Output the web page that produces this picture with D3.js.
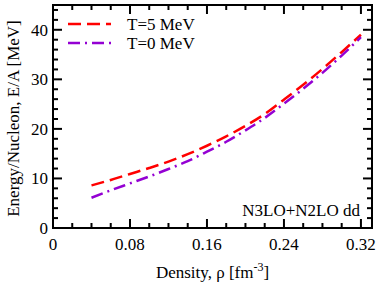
<!DOCTYPE html>
<html>
<head>
<meta charset="utf-8">
<script src="https://cdn.jsdelivr.net/npm/d3@7"></script>
<style>
  body { margin: 0; background: #fff; }
</style>
</head>
<body>
<div id="chart"></div>
<script>
// density values (fm^-3)
var density = [0.04, 0.06, 0.08, 0.10, 0.12, 0.14, 0.16, 0.18, 0.20, 0.22, 0.24, 0.26, 0.28, 0.30, 0.32];
// E/A at T=5 MeV
var energyT5 = [8.6, 9.7, 10.9, 12.1, 13.4, 14.9, 16.6, 18.5, 20.6, 23.0, 25.9, 28.9, 32.1, 35.5, 39.0];
// E/A at T=0 MeV
var energyT0 = [6.1, 7.6, 9.0, 10.4, 11.9, 13.5, 15.4, 17.4, 19.7, 22.2, 25.1, 28.1, 31.3, 34.8, 38.5];

var xTicks = [0, 0.08, 0.16, 0.24, 0.32];
var yTicks = [0, 10, 20, 30, 40];
var seriesNames = ["T=5 MeV", "T=0 MeV"];

var svgWidth = 382;
var svgHeight = 285;
var serif = "Liberation Serif";

var margin = {top: 5, right: 10, bottom: 57, left: 53};
var width = svgWidth - margin.left - margin.right;
var height = svgHeight - margin.top - margin.bottom;

var svg = d3.select("#chart")
  .append("svg")
  .attr("width", svgWidth)
  .attr("height", svgHeight)
  .style("font-family", serif);

var g = svg.append("g")
  .attr("transform", `translate(${margin.left},${margin.top})`);

var x = d3.scaleLinear().domain([0, 0.3315]).range([0, width]);
var y = d3.scaleLinear().domain([0, 45]).range([height, 0]);

// minor ticks
var xMinor = d3.range(0, 0.331, 0.02).filter(v => Math.abs(v / 0.08 - Math.round(v / 0.08)) > 1e-6);
var yMinor = d3.range(0, 45, 2).filter(v => v % 10 != 0);

function tickLines(vals, len, axis) {
  vals.forEach(function(v) {
    if (axis == "x") {
      g.append("line").attr("x1", x(v)).attr("x2", x(v)).attr("y1", height).attr("y2", height - len);
      g.append("line").attr("x1", x(v)).attr("x2", x(v)).attr("y1", 0).attr("y2", len);
    } else {
      g.append("line").attr("x1", 0).attr("x2", len).attr("y1", y(v)).attr("y2", y(v));
      g.append("line").attr("x1", width).attr("x2", width - len).attr("y1", y(v)).attr("y2", y(v));
    }
  });
}
tickLines(xTicks, 9, "x");
tickLines(xMinor, 5, "x");
tickLines(yTicks, 9, "y");
tickLines(yMinor, 5, "y");
g.selectAll("line").attr("stroke", "#000").attr("stroke-width", 2);

// tick labels
g.selectAll(".xlab")
  .data(xTicks)
  .enter()
  .append("text")
  .attr("x", d => x(d))
  .attr("y", height + 22)
  .attr("text-anchor", "middle")
  .attr("font-size", 17)
  .style("font-family", serif)
  .text(d => d == 0 ? "0" : d3.format(".2f")(d));

g.selectAll(".ylab")
  .data(yTicks)
  .enter()
  .append("text")
  .attr("x", -5)
  .attr("y", d => y(d))
  .attr("dy", "0.35em")
  .attr("text-anchor", "end")
  .attr("font-size", 17)
  .style("font-family", serif)
  .text(d => d);

// frame
g.append("rect")
  .attr("width", width)
  .attr("height", height)
  .attr("fill", "none")
  .attr("stroke", "#000")
  .attr("stroke-width", 2);

// curves
var line = d3.line()
  .x(d => x(d[0]))
  .y(d => y(d[1]))
  .curve(d3.curveMonotoneX);

var dataT5 = density.map((d, i) => [d, energyT5[i]]);
var dataT0 = density.map((d, i) => [d, energyT0[i]]);

g.append("path")
  .datum(dataT5)
  .attr("d", line)
  .attr("fill", "none")
  .attr("stroke", "#ff0000")
  .attr("stroke-width", 2.5)
  .attr("stroke-dasharray", "13,6");

g.append("path")
  .datum(dataT0)
  .attr("d", line)
  .attr("fill", "none")
  .attr("stroke", "#9400d3")
  .attr("stroke-width", 2.5)
  .attr("stroke-dasharray", "12,5,2,5");

// legend
var legend = [
  {name: seriesNames[0], color: "#ff0000", dash: "13,6", y: 19},
  {name: seriesNames[1], color: "#9400d3", dash: "12,5,2,5", y: 38}
];
legend.forEach(function(l) {
  g.append("line")
    .attr("x1", 15).attr("x2", 58)
    .attr("y1", l.y).attr("y2", l.y)
    .attr("stroke", l.color)
    .attr("stroke-width", 2.5)
    .attr("stroke-dasharray", l.dash);
  g.append("text")
    .attr("x", 74)
    .attr("y", l.y)
    .attr("dy", "0.35em")
    .attr("font-size", 17)
    .style("font-family", serif)
    .text(l.name);
});

// annotation
g.append("text")
  .attr("x", width - 12)
  .attr("y", height - 12)
  .attr("text-anchor", "end")
  .attr("font-size", 17)
  .style("font-family", serif)
  .text("N3LO+N2LO dd");

// axis titles
var xt = svg.append("text")
  .attr("x", margin.left + width / 2)
  .attr("y", svgHeight - 7)
  .attr("text-anchor", "middle")
  .attr("font-size", 17)
  .style("font-family", serif);
xt.append("tspan").text("Density, \u03c1 [fm");
xt.append("tspan").attr("dy", -7).attr("font-size", 12).text("-3");
xt.append("tspan").attr("dy", 7).text("]");

svg.append("text")
  .attr("transform", `translate(19,${margin.top + height / 2 + 2}) rotate(-90)`)
  .attr("text-anchor", "middle")
  .attr("font-size", 17)
  .style("font-family", serif)
  .text("Energy/Nucleon, E/A [MeV]");
</script>
</body>
</html>
